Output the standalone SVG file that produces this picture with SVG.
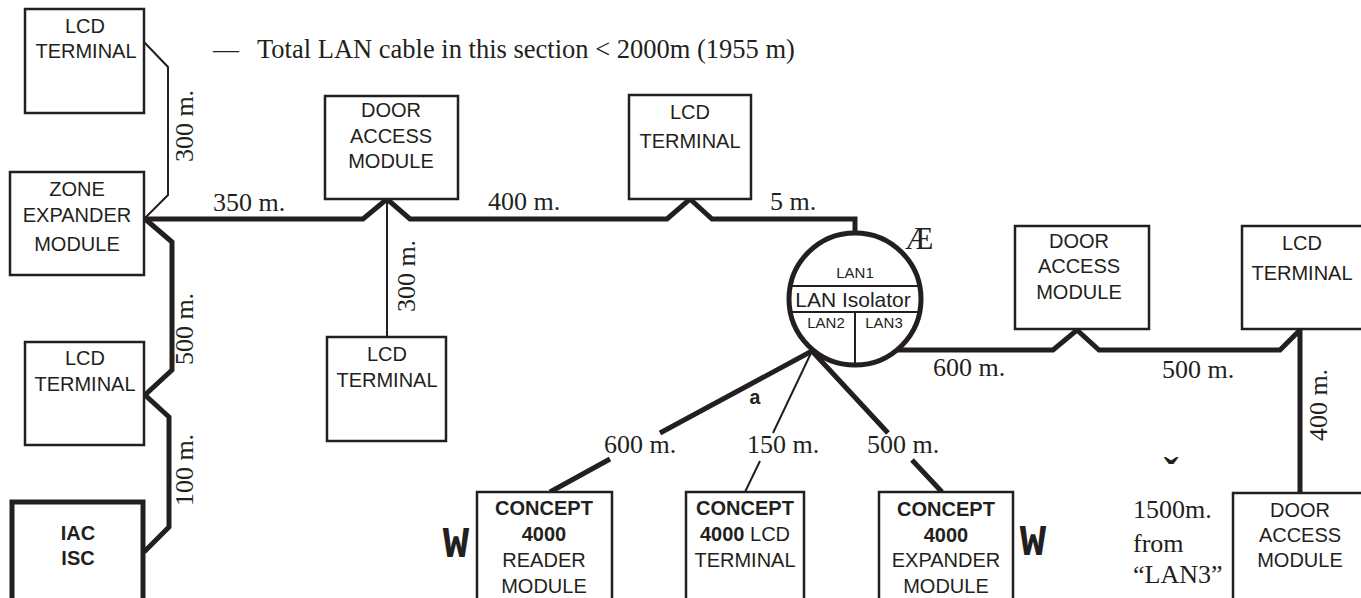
<svg xmlns="http://www.w3.org/2000/svg" width="1361" height="598" viewBox="0 0 1361 598">
<style>
.box{fill:#fff;stroke:#231f20;stroke-width:2.5}
.boxb{fill:#fff;stroke:#231f20;stroke-width:5}
.s{font-family:"Liberation Sans",Arial,sans-serif;font-size:20px;fill:#231f20;text-anchor:middle}
.b{font-weight:bold}
.r{font-family:"Liberation Serif","Times New Roman",serif;font-size:26px;fill:#231f20}
.thick{fill:none;stroke:#231f20;stroke-width:5}
.thin{fill:none;stroke:#231f20;stroke-width:2}
</style>
<rect width="1361" height="598" fill="#fff"/>
<g id="connectors">
<path class="thin" d="M144,42 L168,67 L168,195 L145,218"/>
<path class="thick" d="M144,219 L363,219 L387,199 L410,219 L667,219 L690,199 L712,219 L855,219 L855,233"/>
<path class="thin" d="M387,199 L387,337"/>
<path class="thick" d="M144,218 L172,242 L172,370 L145,395 L169,417 L169,527 L144,552"/>
<path class="thick" d="M897,350 L1053,350 L1077,330 L1099,350 L1280,350 L1300,330 L1300,493"/>
<path class="thick" d="M812,351 L660,433 M610,459 L550,492"/>
<path class="thin" d="M812,351 L773,433 M760,461 L745,492"/>
<path class="thick" d="M812,351 L888,433 M912,460 L942,492"/>
</g>
<g id="isolator">
<circle cx="855" cy="299" r="66" fill="#fff" stroke="#231f20" stroke-width="5"/>
<path class="thin" d="M790,286 L920,286 M790,312 L920,312 M855,312 L855,365"/>
<text class="s" x="855" y="278" style="font-size:15px">LAN1</text>
<text class="s" x="853" y="307" style="font-size:21px">LAN Isolator</text>
<text class="s" x="826" y="328" style="font-size:15px">LAN2</text>
<text class="s" x="884" y="328" style="font-size:15px">LAN3</text>
</g>
<g id="lcd1">
<rect class="box" x="25" y="9" width="119" height="104"/>
<text class="s" x="85" y="33">LCD</text>
<text class="s" x="86" y="58">TERMINAL</text>
</g>
<g id="zone">
<rect class="box" x="10" y="172" width="134" height="103"/>
<text class="s" x="77" y="196">ZONE</text>
<text class="s" x="77" y="222">EXPANDER</text>
<text class="s" x="77" y="251">MODULE</text>
</g>
<g id="door1">
<rect class="box" x="325" y="96" width="133" height="103"/>
<text class="s" x="391" y="117">DOOR</text>
<text class="s" x="391" y="143">ACCESS</text>
<text class="s" x="391" y="168">MODULE</text>
</g>
<g id="lcd2">
<rect class="box" x="629" y="95" width="122" height="104"/>
<text class="s" x="690" y="119">LCD</text>
<text class="s" x="690" y="148">TERMINAL</text>
</g>
<g id="lcd3">
<rect class="box" x="327" y="337" width="119" height="104"/>
<text class="s" x="387" y="361">LCD</text>
<text class="s" x="387" y="387">TERMINAL</text>
</g>
<g id="lcd4">
<rect class="box" x="25" y="342" width="119" height="103"/>
<text class="s" x="85" y="365">LCD</text>
<text class="s" x="85" y="391">TERMINAL</text>
</g>
<g id="iac">
<rect class="boxb" x="12" y="502" width="131" height="110"/>
<text class="s b" x="78" y="540">IAC</text>
<text class="s b" x="78" y="565">ISC</text>
</g>
<g id="reader">
<rect class="box" x="477" y="492" width="135" height="120"/>
<text class="s b" x="544" y="515">CONCEPT</text>
<text class="s b" x="544" y="541">4000</text>
<text class="s" x="544" y="567">READER</text>
<text class="s" x="544" y="593">MODULE</text>
</g>
<g id="c4lcd">
<rect class="box" x="686" y="492" width="118" height="120"/>
<text class="s b" x="745" y="515">CONCEPT</text>
<text class="s" x="745" y="541"><tspan class="b">4000</tspan> LCD</text>
<text class="s" x="745" y="567">TERMINAL</text>
</g>
<g id="expander">
<rect class="box" x="879" y="492" width="134" height="120"/>
<text class="s b" x="946" y="516">CONCEPT</text>
<text class="s b" x="946" y="542">4000</text>
<text class="s" x="946" y="567">EXPANDER</text>
<text class="s" x="946" y="593">MODULE</text>
</g>
<g id="door2">
<rect class="box" x="1015" y="226" width="134" height="103"/>
<text class="s" x="1079" y="248">DOOR</text>
<text class="s" x="1079" y="273">ACCESS</text>
<text class="s" x="1079" y="299">MODULE</text>
</g>
<g id="lcd5">
<rect class="box" x="1242" y="226" width="124" height="103"/>
<text class="s" x="1302" y="250">LCD</text>
<text class="s" x="1302" y="280">TERMINAL</text>
</g>
<g id="door3">
<rect class="box" x="1233" y="493" width="134" height="120"/>
<text class="s" x="1300" y="517">DOOR</text>
<text class="s" x="1300" y="542">ACCESS</text>
<text class="s" x="1300" y="567">MODULE</text>
</g>
<g id="labels">
<text class="r" x="213" y="58">—</text>
<text class="r" x="257" y="58" style="font-size:26.5px">Total LAN cable in this section &lt; 2000m (1955 m)</text>
<text class="r" x="213" y="211">350 m.</text>
<text class="r" x="488" y="210">400 m.</text>
<text class="r" x="770" y="210">5 m.</text>
<text class="r" x="933" y="376">600 m.</text>
<text class="r" x="1162" y="378">500 m.</text>
<text class="r" x="604" y="453">600 m.</text>
<text class="r" x="747" y="453">150 m.</text>
<text class="r" x="867" y="453">500 m.</text>
<text class="r" text-anchor="middle" transform="translate(193,126) rotate(-90)">300 m.</text>
<text class="r" text-anchor="middle" transform="translate(415,276) rotate(-90)">300 m.</text>
<text class="r" text-anchor="middle" transform="translate(193,329) rotate(-90)">500 m.</text>
<text class="r" text-anchor="middle" transform="translate(193,470) rotate(-90)">100 m.</text>
<text class="r" text-anchor="middle" transform="translate(1327,405) rotate(-90)">400 m.</text>
<text class="r" x="1133" y="518">1500m.</text>
<text class="r" x="1133" y="552">from</text>
<text class="r" x="1133" y="583">“LAN3”</text>
<text class="r" x="905" y="249" style="font-size:32px">Æ</text>
<text class="r" x="1171" y="488" text-anchor="middle" style="font-size:44px;font-weight:bold">ˇ</text>
<text x="755" y="404" text-anchor="middle" style="font-family:'Liberation Mono','Courier New',monospace;font-size:20px;font-weight:bold;fill:#231f20">a</text>
<text x="456" y="557" text-anchor="middle" style="font-family:'Liberation Mono','Courier New',monospace;font-size:44px;font-weight:bold;fill:#231f20">W</text>
<text x="1033" y="555" text-anchor="middle" style="font-family:'Liberation Mono','Courier New',monospace;font-size:44px;font-weight:bold;fill:#231f20">W</text>
</g>
</svg>
